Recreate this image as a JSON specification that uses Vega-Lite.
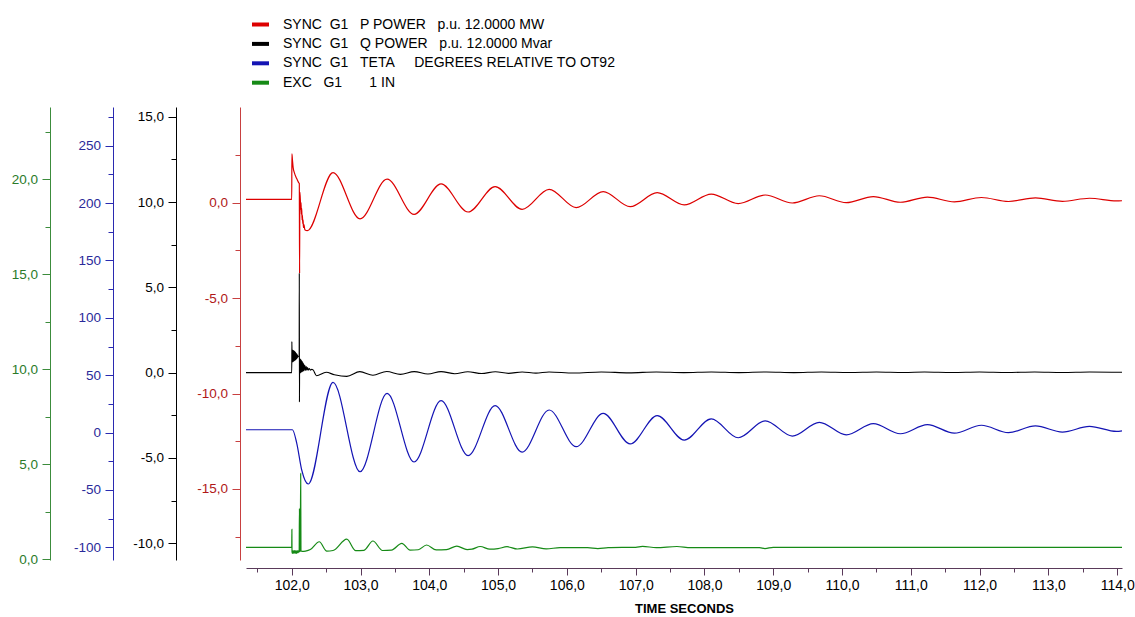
{
  "$schema": "https://vega.github.io/schema/vega-lite/v6.json",
  "width": 876,
  "height": 453,
  "autosize": "none",
  "padding": {"left": 246, "top": 107, "right": 13, "bottom": 57},
  "background": "white",
  "config": {
    "view": {"stroke": null},
    "axis": {"labelFont": "Liberation Sans", "titleFont": "Liberation Sans", "grid": false}
  },
  "datasets": {
    "d": [
      {"s":"P","t":101.335,"v":0.17},{"s":"P","t":102.0,"v":0.17},{"s":"P","t":102.002,"v":2.55},{"s":"P","t":102.01,"v":2.25},{"s":"P","t":102.02,"v":1.85},{"s":"P","t":102.04,"v":1.55},{"s":"P","t":102.06,"v":1.35},{"s":"P","t":102.08,"v":1.2},{"s":"P","t":102.1,"v":1.05},{"s":"P","t":102.11,"v":1.0},{"s":"P","t":102.114,"v":-3.7},{"s":"P","t":102.118,"v":0.55},{"s":"P","t":102.125,"v":0.15},{"s":"P","t":102.13,"v":-0.35},{"s":"P","t":102.135,"v":0.0},{"s":"P","t":102.14,"v":-0.6},{"s":"P","t":102.145,"v":-0.3},{"s":"P","t":102.15,"v":-0.9},{"s":"P","t":102.155,"v":-0.65},{"s":"P","t":102.16,"v":-1.1},{"s":"P","t":102.165,"v":-0.9},{"s":"P","t":102.17,"v":-1.3},{"s":"P","t":102.178,"v":-1.15},{"s":"P","t":102.19,"v":-1.42},{"s":"P","t":102.227,"v":-1.47},{"s":"P","t":102.6,"v":1.57},{"s":"P","t":102.993,"v":-0.85},{"s":"P","t":103.386,"v":1.23},{"s":"P","t":103.778,"v":-0.61},{"s":"P","t":104.171,"v":0.98},{"s":"P","t":104.564,"v":-0.49},{"s":"P","t":104.957,"v":0.84},{"s":"P","t":105.349,"v":-0.35},{"s":"P","t":105.742,"v":0.7},{"s":"P","t":106.135,"v":-0.26},{"s":"P","t":106.528,"v":0.58},{"s":"P","t":106.92,"v":-0.21},{"s":"P","t":107.313,"v":0.52},{"s":"P","t":107.706,"v":-0.12},{"s":"P","t":108.099,"v":0.45},{"s":"P","t":108.491,"v":-0.05},{"s":"P","t":108.884,"v":0.4},{"s":"P","t":109.277,"v":-0.02},{"s":"P","t":109.67,"v":0.36},{"s":"P","t":110.062,"v":0.0},{"s":"P","t":110.455,"v":0.32},{"s":"P","t":110.848,"v":0.02},{"s":"P","t":111.241,"v":0.29},{"s":"P","t":111.633,"v":0.04},{"s":"P","t":112.026,"v":0.27},{"s":"P","t":112.419,"v":0.06},{"s":"P","t":112.812,"v":0.25},{"s":"P","t":113.204,"v":0.07},{"s":"P","t":113.597,"v":0.23},{"s":"P","t":113.99,"v":0.09},{"s":"P","t":114.07,"v":0.1},

      {"s":"Q","t":101.335,"v":0.0},{"s":"Q","t":102.0,"v":0.0},{"s":"Q","t":102.002,"v":1.82},{"s":"Q","t":102.004,"v":0.9},{"s":"Q","t":102.006,"v":1.35},{"s":"Q","t":102.01,"v":0.62},{"s":"Q","t":102.015,"v":1.33},{"s":"Q","t":102.02,"v":0.64},{"s":"Q","t":102.025,"v":1.3},{"s":"Q","t":102.03,"v":0.67},{"s":"Q","t":102.035,"v":1.27},{"s":"Q","t":102.04,"v":0.7},{"s":"Q","t":102.045,"v":1.23},{"s":"Q","t":102.05,"v":0.73},{"s":"Q","t":102.055,"v":1.19},{"s":"Q","t":102.06,"v":0.77},{"s":"Q","t":102.065,"v":1.14},{"s":"Q","t":102.07,"v":0.81},{"s":"Q","t":102.075,"v":1.09},{"s":"Q","t":102.08,"v":0.86},{"s":"Q","t":102.085,"v":1.02},{"s":"Q","t":102.09,"v":0.92},{"s":"Q","t":102.1,"v":0.95},{"s":"Q","t":102.108,"v":0.95},{"s":"Q","t":102.11,"v":5.85},{"s":"Q","t":102.112,"v":-1.72},{"s":"Q","t":102.115,"v":0.84},{"s":"Q","t":102.12,"v":-0.04},{"s":"Q","t":102.125,"v":0.8},{"s":"Q","t":102.13,"v":0.0},{"s":"Q","t":102.135,"v":0.75},{"s":"Q","t":102.14,"v":0.03},{"s":"Q","t":102.145,"v":0.7},{"s":"Q","t":102.15,"v":0.06},{"s":"Q","t":102.155,"v":0.64},{"s":"Q","t":102.16,"v":0.08},{"s":"Q","t":102.165,"v":0.57},{"s":"Q","t":102.17,"v":0.1},{"s":"Q","t":102.175,"v":0.5},{"s":"Q","t":102.18,"v":0.12},{"s":"Q","t":102.19,"v":0.43},{"s":"Q","t":102.2,"v":0.13},{"s":"Q","t":102.21,"v":0.36},{"s":"Q","t":102.22,"v":0.14},{"s":"Q","t":102.23,"v":0.3},{"s":"Q","t":102.24,"v":0.15},{"s":"Q","t":102.255,"v":0.24},{"s":"Q","t":102.27,"v":0.15},{"s":"Q","t":102.29,"v":0.19},{"s":"Q","t":102.31,"v":0.16},{"s":"Q","t":102.36,"v":-0.18},{"s":"Q","t":102.5,"v":0.02},{"s":"Q","t":102.62,"v":-0.12},{"s":"Q","t":102.8,"v":-0.22},{"s":"Q","t":102.99,"v":0.06},{"s":"Q","t":103.18,"v":-0.15},{"s":"Q","t":103.38,"v":0.07},{"s":"Q","t":103.58,"v":-0.1},{"s":"Q","t":103.78,"v":0.06},{"s":"Q","t":103.98,"v":-0.08},{"s":"Q","t":104.17,"v":0.06},{"s":"Q","t":104.37,"v":-0.06},{"s":"Q","t":104.56,"v":0.05},{"s":"Q","t":104.76,"v":-0.05},{"s":"Q","t":104.96,"v":0.05},{"s":"Q","t":105.15,"v":-0.04},{"s":"Q","t":105.35,"v":0.04},{"s":"Q","t":105.55,"v":-0.03},{"s":"Q","t":105.74,"v":0.04},{"s":"Q","t":106.1,"v":-0.02},{"s":"Q","t":106.5,"v":0.04},{"s":"Q","t":106.9,"v":-0.01},{"s":"Q","t":107.3,"v":0.04},{"s":"Q","t":107.7,"v":0.0},{"s":"Q","t":108.1,"v":0.04},{"s":"Q","t":108.5,"v":0.0},{"s":"Q","t":108.9,"v":0.04},{"s":"Q","t":109.3,"v":0.0},{"s":"Q","t":109.7,"v":0.04},{"s":"Q","t":110.1,"v":0.01},{"s":"Q","t":110.5,"v":0.04},{"s":"Q","t":110.9,"v":0.01},{"s":"Q","t":111.2,"v":0.04},{"s":"Q","t":111.6,"v":0.01},{"s":"Q","t":112.0,"v":0.04},{"s":"Q","t":112.4,"v":0.01},{"s":"Q","t":112.8,"v":0.04},{"s":"Q","t":113.2,"v":0.01},{"s":"Q","t":113.6,"v":0.04},{"s":"Q","t":114.07,"v":0.02},

      {"s":"T","t":101.335,"v":2.5},{"s":"T","t":102.01,"v":2.5},{"s":"T","t":102.073,"v":-9.3},{"s":"T","t":102.145,"v":-32.6},{"s":"T","t":102.24,"v":-44.8},{"s":"T","t":102.6,"v":43.8},{"s":"T","t":102.993,"v":-34.1},{"s":"T","t":103.386,"v":34.2},{"s":"T","t":103.778,"v":-25.6},{"s":"T","t":104.171,"v":27.8},{"s":"T","t":104.564,"v":-20.1},{"s":"T","t":104.957,"v":23.5},{"s":"T","t":105.349,"v":-17.0},{"s":"T","t":105.742,"v":19.7},{"s":"T","t":106.135,"v":-12.3},{"s":"T","t":106.528,"v":16.8},{"s":"T","t":106.92,"v":-9.9},{"s":"T","t":107.313,"v":14.8},{"s":"T","t":107.706,"v":-6.5},{"s":"T","t":108.099,"v":12.0},{"s":"T","t":108.491,"v":-4.5},{"s":"T","t":108.884,"v":10.3},{"s":"T","t":109.277,"v":-3.0},{"s":"T","t":109.67,"v":9.0},{"s":"T","t":110.062,"v":-2.0},{"s":"T","t":110.455,"v":7.8},{"s":"T","t":110.848,"v":-1.0},{"s":"T","t":111.241,"v":7.0},{"s":"T","t":111.633,"v":-0.5},{"s":"T","t":112.026,"v":6.4},{"s":"T","t":112.419,"v":0.0},{"s":"T","t":112.812,"v":5.8},{"s":"T","t":113.204,"v":0.5},{"s":"T","t":113.597,"v":5.4},{"s":"T","t":113.99,"v":1.0},{"s":"T","t":114.07,"v":1.5},

      {"s":"E","t":101.335,"v":0.62},{"s":"E","t":102.0,"v":0.62},{"s":"E","t":102.002,"v":1.56},{"s":"E","t":102.004,"v":0.38},{"s":"E","t":102.01,"v":0.3},{"s":"E","t":102.02,"v":0.45},{"s":"E","t":102.03,"v":0.3},{"s":"E","t":102.04,"v":0.45},{"s":"E","t":102.05,"v":0.3},{"s":"E","t":102.06,"v":0.45},{"s":"E","t":102.07,"v":0.3},{"s":"E","t":102.08,"v":0.45},{"s":"E","t":102.09,"v":0.32},{"s":"E","t":102.1,"v":0.45},{"s":"E","t":102.108,"v":0.35},{"s":"E","t":102.112,"v":2.67},{"s":"E","t":102.116,"v":0.4},{"s":"E","t":102.124,"v":0.42},{"s":"E","t":102.13,"v":4.51},{"s":"E","t":102.134,"v":0.45},{"s":"E","t":102.15,"v":0.4},{"s":"E","t":102.2,"v":0.42},{"s":"E","t":102.27,"v":0.5},{"s":"E","t":102.4,"v":0.91},{"s":"E","t":102.51,"v":0.42},{"s":"E","t":102.6,"v":0.45},{"s":"E","t":102.8,"v":1.05},{"s":"E","t":102.93,"v":0.44},{"s":"E","t":103.05,"v":0.46},{"s":"E","t":103.18,"v":0.95},{"s":"E","t":103.32,"v":0.45},{"s":"E","t":103.45,"v":0.47},{"s":"E","t":103.6,"v":0.83},{"s":"E","t":103.72,"v":0.47},{"s":"E","t":103.84,"v":0.49},{"s":"E","t":103.96,"v":0.74},{"s":"E","t":104.1,"v":0.48},{"s":"E","t":104.25,"v":0.5},{"s":"E","t":104.4,"v":0.68},{"s":"E","t":104.55,"v":0.5},{"s":"E","t":104.62,"v":0.52},{"s":"E","t":104.74,"v":0.66},{"s":"E","t":104.88,"v":0.52},{"s":"E","t":105.0,"v":0.55},{"s":"E","t":105.13,"v":0.65},{"s":"E","t":105.28,"v":0.53},{"s":"E","t":105.5,"v":0.64},{"s":"E","t":105.7,"v":0.54},{"s":"E","t":105.9,"v":0.6},{"s":"E","t":106.3,"v":0.6},{"s":"E","t":106.45,"v":0.55},{"s":"E","t":106.6,"v":0.6},{"s":"E","t":107.0,"v":0.62},{"s":"E","t":107.1,"v":0.67},{"s":"E","t":107.3,"v":0.6},{"s":"E","t":107.6,"v":0.66},{"s":"E","t":107.8,"v":0.6},{"s":"E","t":108.2,"v":0.6},{"s":"E","t":108.8,"v":0.6},{"s":"E","t":108.88,"v":0.55},{"s":"E","t":109.0,"v":0.62},{"s":"E","t":114.07,"v":0.62}
    ]
  },
  "data": {"name": "d"},
  "encoding": {
    "x": {
      "field": "t", "type": "quantitative",
      "scale": {"domain": [101.335, 114.07], "nice": false, "zero": false},
      "axis": {
        "values": [101.5,102,102.5,103,103.5,104,104.5,105,105.5,106,106.5,107,107.5,108,108.5,109,109.5,110,110.5,111,111.5,112,112.5,113,113.5,114],
        "labelExpr": "datum.value % 1 == 0 ? datum.value + ',0' : ''",
        "tickSize": {"condition": {"test": "datum.value % 1 != 0", "value": 4}, "value": 7},
        "offset": 8,
        "domainColor": "#5a3a5a", "tickColor": "#5a3a5a",
        "labelFontSize": 14, "labelColor": "#000000", "labelPadding": 3,
        "labelFlush": false, "labelOverlap": false,
        "title": "TIME SECONDS", "titleFontSize": 13, "titleFontWeight": "bold", "titleColor": "#000000", "titlePadding": 10
      }
    },
    "color": {
      "field": "s", "type": "nominal",
      "scale": {"domain": ["P","Q","T","E"], "range": ["#dd0000","#000000","#1414b4","#168a16"]},
      "legend": {
        "orient": "none", "legendX": 4, "legendY": -93, "direction": "vertical",
        "title": null, "padding": 0,
        "symbolType": "stroke", "symbolSize": 289, "symbolStrokeWidth": 4, "symbolOpacity": 1,
        "labelFont": "Liberation Sans", "labelFontSize": 14, "labelColor": "#000000",
        "labelOffset": 12, "rowPadding": 0.4, "labelLimit": 0,
        "labelExpr": "datum.label == 'P' ? 'SYNC\u00a0\u00a0G1\u00a0\u00a0\u00a0P POWER\u00a0\u00a0\u00a0p.u. 12.0000 MW' : datum.label == 'Q' ? 'SYNC\u00a0\u00a0G1\u00a0\u00a0\u00a0Q POWER\u00a0\u00a0\u00a0p.u. 12.0000 Mvar' : datum.label == 'T' ? 'SYNC\u00a0\u00a0G1\u00a0\u00a0\u00a0TETA\u00a0\u00a0\u00a0\u00a0\u00a0DEGREES RELATIVE TO OT92' : 'EXC\u00a0\u00a0\u00a0G1\u00a0\u00a0\u00a0\u00a0\u00a0\u00a0\u00a01 IN'"
      }
    }
  },
  "layer": [
    {
      "transform": [{"filter": "datum.s == 'P'"}],
      "mark": {"type": "line", "interpolate": "monotone", "strokeWidth": 1.2},
      "encoding": {
        "y": {
          "field": "v", "type": "quantitative",
          "scale": {"domain": [-18.72, 5.01], "nice": false, "zero": false},
          "axis": {
            "orient": "left", "offset": 6, "title": null,
            "values": [2.5,0,-2.5,-5,-7.5,-10,-12.5,-15,-17.5],
            "labelExpr": "datum.value % 5 == 0 ? datum.value + ',0' : ''",
            "tickSize": {"condition": {"test": "datum.value % 5 != 0", "value": 5}, "value": 8},
            "domainColor": "#c84040", "tickColor": "#c84040", "labelColor": "#b01818",
            "labelFontSize": 13.5, "labelPadding": 4.5, "labelFlush": false, "labelOverlap": false
          }
        }
      }
    },
    {
      "transform": [{"filter": "datum.s == 'Q'"}],
      "mark": {"type": "line", "interpolate": "monotone", "strokeWidth": 1.1},
      "encoding": {
        "y": {
          "field": "v", "type": "quantitative",
          "scale": {"domain": [-10.98, 15.57], "nice": false, "zero": false},
          "axis": {
            "orient": "left", "offset": 70, "title": null,
            "values": [15,12.5,10,7.5,5,2.5,0,-2.5,-5,-7.5,-10],
            "labelExpr": "datum.value % 5 == 0 ? datum.value + ',0' : ''",
            "tickSize": {"condition": {"test": "datum.value % 5 != 0", "value": 5}, "value": 8},
            "domainColor": "#000000", "tickColor": "#000000", "labelColor": "#000000",
            "labelFontSize": 13.5, "labelPadding": 4.5, "labelFlush": false, "labelOverlap": false
          }
        }
      }
    },
    {
      "transform": [{"filter": "datum.s == 'T'"}],
      "mark": {"type": "line", "interpolate": "monotone", "strokeWidth": 1.2},
      "encoding": {
        "y": {
          "field": "v", "type": "quantitative",
          "scale": {"domain": [-111, 283.7], "nice": false, "zero": false},
          "axis": {
            "orient": "left", "offset": 133, "title": null,
            "values": [275,250,225,200,175,150,125,100,75,50,25,0,-25,-50,-75,-100],
            "labelExpr": "datum.value % 50 == 0 ? '' + datum.value : ''",
            "tickSize": {"condition": {"test": "datum.value % 50 != 0", "value": 5}, "value": 8},
            "domainColor": "#2a2ab0", "tickColor": "#2a2ab0", "labelColor": "#2a2a9a",
            "labelFontSize": 13.5, "labelPadding": 4.5, "labelFlush": false, "labelOverlap": false
          }
        }
      }
    },
    {
      "transform": [{"filter": "datum.s == 'E'"}],
      "mark": {"type": "line", "interpolate": "monotone", "strokeWidth": 1.2},
      "encoding": {
        "y": {
          "field": "v", "type": "quantitative",
          "scale": {"domain": [-0.05, 23.81], "nice": false, "zero": false},
          "axis": {
            "orient": "left", "offset": 196, "title": null,
            "values": [22.5,20,17.5,15,12.5,10,7.5,5,2.5,0],
            "labelExpr": "datum.value % 5 == 0 ? datum.value + ',0' : ''",
            "tickSize": {"condition": {"test": "datum.value % 5 != 0", "value": 5}, "value": 8},
            "domainColor": "#3c8c3c", "tickColor": "#3c8c3c", "labelColor": "#2a7a2a",
            "labelFontSize": 13.5, "labelPadding": 4.5, "labelFlush": false, "labelOverlap": false
          }
        }
      }
    }
  ],
  "resolve": {"scale": {"y": "independent"}, "axis": {"y": "independent"}}
}
